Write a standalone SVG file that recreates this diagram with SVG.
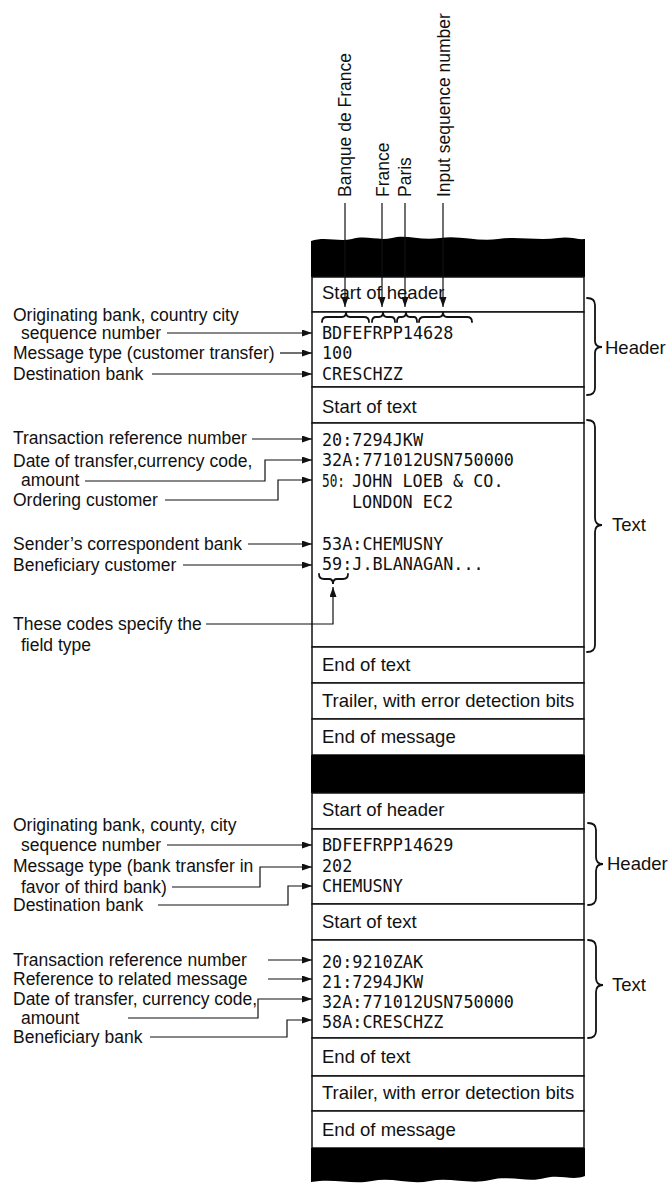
<svg xmlns="http://www.w3.org/2000/svg" width="671" height="1187" viewBox="0 0 671 1187">
<defs>
<style>
.s{font-family:"Liberation Sans",Arial,Helvetica,sans-serif;font-size:17.5px;fill:#111}
.r{font-family:"Liberation Sans",Arial,Helvetica,sans-serif;font-size:18.5px;fill:#111}
.m{font-family:"DejaVu Sans Mono","Liberation Mono",monospace;font-size:16.8px;fill:#111}
.b{font-family:"Liberation Sans",Arial,Helvetica,sans-serif;font-size:18.5px;fill:#111}
.ln{fill:none;stroke:#111;stroke-width:1.2}
.row{fill:#fff;stroke:#111;stroke-width:1.5}
.br{fill:none;stroke:#111;stroke-width:1.8;stroke-linecap:round}
.bar{fill:#000}
</style>
<marker id="ah" markerUnits="userSpaceOnUse" markerWidth="11" markerHeight="8" refX="10" refY="3.5" orient="auto">
<path d="M0,0 L10,3.5 L0,7 z" fill="#111"/>
</marker>
</defs>
<rect width="671" height="1187" fill="#fff"/>

<!-- column rows -->
<g id="rows1">
<path class="bar" d="M311,241 C325,236 338,242 352,239 C366,235 378,241 392,238 C406,234 420,241 440,238 C460,235 478,242 498,239 C518,236 538,241 558,238 C570,236 578,240 585,239 L585,277 L311,277 Z"/>
<g id="n-soh1"><rect class="row" x="312" y="277" width="272" height="35"/><text class="r" x="322" y="299">Start of header</text></g>
<g id="n-hdr1"><rect class="row" x="312" y="312" width="272" height="75"/>
<text class="m" x="322" y="339">BDFEFRPP14628</text>
<text class="m" x="322" y="359">100</text>
<text class="m" x="322" y="380">CRESCHZZ</text></g>
<g id="n-sot1"><rect class="row" x="312" y="387" width="272" height="36"/><text class="r" x="322" y="413">Start of text</text></g>
<g id="n-txt1"><rect class="row" x="312" y="423" width="272" height="224"/>
<text class="m" x="322" y="446">20:7294JKW</text>
<text class="m" x="322" y="466">32A:771012USN750000</text>
<text class="m" x="322" y="487"><tspan textLength="23" lengthAdjust="spacingAndGlyphs">50:</tspan><tspan x="352">JOHN LOEB &amp; CO.</tspan></text>
<text class="m" x="352" y="508">LONDON EC2</text>
<text class="m" x="322" y="550">53A:CHEMUSNY</text>
<text class="m" x="322" y="570">59:J.BLANAGAN...</text></g>
<g id="n-eot1"><rect class="row" x="312" y="647" width="272" height="36"/><text class="r" x="322" y="671">End of text</text></g>
<g id="n-trl1"><rect class="row" x="312" y="683" width="272" height="36"/><text class="r" x="322" y="707">Trailer, with error detection bits</text></g>
<g id="n-eom1"><rect class="row" x="312" y="719" width="272" height="36"/><text class="r" x="322" y="743">End of message</text></g>
<rect class="bar" x="311" y="755" width="274" height="38"/>
</g>

<g id="rows2">
<g id="n-soh2"><rect class="row" x="312" y="793" width="272" height="36"/><text class="r" x="322" y="816">Start of header</text></g>
<g id="n-hdr2"><rect class="row" x="312" y="829" width="272" height="75"/>
<text class="m" x="322" y="851">BDFEFRPP14629</text>
<text class="m" x="322" y="872">202</text>
<text class="m" x="322" y="892">CHEMUSNY</text></g>
<g id="n-sot2"><rect class="row" x="312" y="904" width="272" height="36"/><text class="r" x="322" y="928">Start of text</text></g>
<g id="n-txt2"><rect class="row" x="312" y="940" width="272" height="98"/>
<text class="m" x="322" y="968">20:9210ZAK</text>
<text class="m" x="322" y="988">21:7294JKW</text>
<text class="m" x="322" y="1008">32A:771012USN750000</text>
<text class="m" x="322" y="1028">58A:CRESCHZZ</text></g>
<g id="n-eot2"><rect class="row" x="312" y="1038" width="272" height="38"/><text class="r" x="322" y="1063">End of text</text></g>
<g id="n-trl2"><rect class="row" x="312" y="1076" width="272" height="35"/><text class="r" x="322" y="1099">Trailer, with error detection bits</text></g>
<g id="n-eom2"><rect class="row" x="312" y="1111" width="272" height="37"/><text class="r" x="322" y="1136">End of message</text></g>
<path class="bar" d="M311,1148 L585,1148 L585,1176 C572,1181 560,1174 545,1178 C528,1183 510,1175 490,1180 C470,1185 450,1177 430,1181 C410,1185 392,1177 372,1181 C352,1185 335,1178 311,1182 Z"/>
</g>

<!-- top labels -->
<g id="n-top-banque"><text class="s" transform="translate(351,197) rotate(-90)">Banque de France</text></g>
<g id="n-top-france"><text class="s" transform="translate(389,197) rotate(-90)">France</text></g>
<g id="n-top-paris"><text class="s" transform="translate(411,197) rotate(-90)">Paris</text></g>
<g id="n-top-input"><text class="s" transform="translate(450,197) rotate(-90)">Input sequence number</text></g>

<!-- braces -->
<g id="braces">
<path class="br" d="M322,322 Q322,317 327,317 L342,317 Q346,317 346,312 Q346,317 350,317 L364,317 Q369,317 369,322"/>
<path class="br" d="M372,322 Q372,317 376,317 L379,317 Q383,317 383,312 Q383,317 387,317 L391,317 Q395,317 395,322"/>
<path class="br" d="M397,322 Q397,317 400,317 L402,317 Q406,317 406,312 Q406,317 410,317 L414,317 Q417,317 417,322"/>
<path class="br" d="M419,322 Q419,317 424,317 L439,317 Q443,317 443,312 Q443,317 447,317 L467,317 Q472,317 472,322"/>
<path class="br" d="M319,574 Q319,579 324,579 L329,579 Q333,579 333,584 Q333,579 337,579 L343,579 Q348,579 348,574"/>
<path class="br" d="M587,298 Q595,298 595,305 L595,341 Q595,347 602,347 Q595,347 595,353 L595,388 Q595,395 587,395"/>
<path class="br" d="M587,420 Q595,420 595,427 L595,518 Q595,525 602,525 Q595,525 595,532 L595,645 Q595,652 587,652"/>
<path class="br" d="M588,823 Q596,823 596,830 L596,857 Q596,864 603,864 Q596,864 596,871 L596,898 Q596,905 588,905"/>
<path class="br" d="M588,940 Q596,940 596,947 L596,978 Q596,985 603,985 Q596,985 596,992 L596,1031 Q596,1038 588,1038"/>
</g>
<g id="n-lbl-header1"><text class="b" x="605" y="354">Header</text></g>
<g id="n-lbl-text1"><text class="b" x="612" y="531">Text</text></g>
<g id="n-lbl-header2"><text class="b" x="607" y="870">Header</text></g>
<g id="n-lbl-text2"><text class="b" x="612" y="991">Text</text></g>

<!-- left labels section 1 -->
<g id="n-l1"><text class="s" x="13" y="321">Originating bank, country city</text><text class="s" x="21" y="339">sequence number</text></g>
<g id="n-l2"><text class="s" x="13" y="359">Message type (customer transfer)</text></g>
<g id="n-l3"><text class="s" x="13" y="380">Destination bank</text></g>
<g id="n-l4"><text class="s" x="13" y="444">Transaction reference number</text></g>
<g id="n-l5"><text class="s" x="13" y="467">Date of transfer,currency code,</text><text class="s" x="21" y="486">amount</text></g>
<g id="n-l6"><text class="s" x="13" y="506">Ordering customer</text></g>
<g id="n-l7"><text class="s" x="13" y="550">Sender’s correspondent bank</text></g>
<g id="n-l8"><text class="s" x="13" y="571">Beneficiary customer</text></g>
<g id="n-l9"><text class="s" x="13" y="630">These codes specify the</text><text class="s" x="21" y="651">field type</text></g>

<!-- left labels section 2 -->
<g id="n-m1"><text class="s" x="13" y="831">Originating bank, county, city</text><text class="s" x="21" y="851">sequence number</text></g>
<g id="n-m2"><text class="s" x="13" y="872">Message type (bank transfer in</text><text class="s" x="21" y="893">favor of third bank)</text></g>
<g id="n-m3"><text class="s" x="13" y="911">Destination bank</text></g>
<g id="n-m4"><text class="s" x="13" y="966">Transaction reference number</text></g>
<g id="n-m5"><text class="s" x="13" y="985">Reference to related message</text></g>
<g id="n-m6"><text class="s" x="13" y="1005">Date of transfer, currency code,</text><text class="s" x="21" y="1024">amount</text></g>
<g id="n-m7"><text class="s" x="13" y="1043">Beneficiary bank</text></g>

<!-- connectors -->
<g id="connectors">
<line class="ln" x1="345" y1="203" x2="345" y2="307" marker-end="url(#ah)"/>
<line class="ln" x1="382" y1="203" x2="382" y2="307" marker-end="url(#ah)"/>
<line class="ln" x1="405" y1="203" x2="405" y2="307" marker-end="url(#ah)"/>
<line class="ln" x1="443" y1="203" x2="443" y2="307" marker-end="url(#ah)"/>
<line class="ln" x1="167" y1="333" x2="312" y2="333" marker-end="url(#ah)"/>
<line class="ln" x1="280" y1="353" x2="312" y2="353" marker-end="url(#ah)"/>
<line class="ln" x1="152" y1="374" x2="312" y2="374" marker-end="url(#ah)"/>
<line class="ln" x1="252" y1="439" x2="312" y2="439" marker-end="url(#ah)"/>
<polyline class="ln" points="85,481 265,481 265,460 312,460" marker-end="url(#ah)"/>
<polyline class="ln" points="165,500 278,500 278,480 312,480" marker-end="url(#ah)"/>
<line class="ln" x1="248" y1="544" x2="312" y2="544" marker-end="url(#ah)"/>
<line class="ln" x1="183" y1="565" x2="312" y2="565" marker-end="url(#ah)"/>
<polyline class="ln" points="206,624 333,624 333,587" marker-end="url(#ah)"/>
<line class="ln" x1="167" y1="845" x2="312" y2="845" marker-end="url(#ah)"/>
<polyline class="ln" points="172,887 260,887 260,867 312,867" marker-end="url(#ah)"/>
<polyline class="ln" points="158,905 288,905 288,886 312,886" marker-end="url(#ah)"/>
<line class="ln" x1="268" y1="960" x2="312" y2="960" marker-end="url(#ah)"/>
<line class="ln" x1="268" y1="979" x2="312" y2="979" marker-end="url(#ah)"/>
<polyline class="ln" points="128,1018 258,1018 258,999 312,999" marker-end="url(#ah)"/>
<polyline class="ln" points="150,1037 287,1037 287,1020 312,1020" marker-end="url(#ah)"/>
</g>
</svg>
